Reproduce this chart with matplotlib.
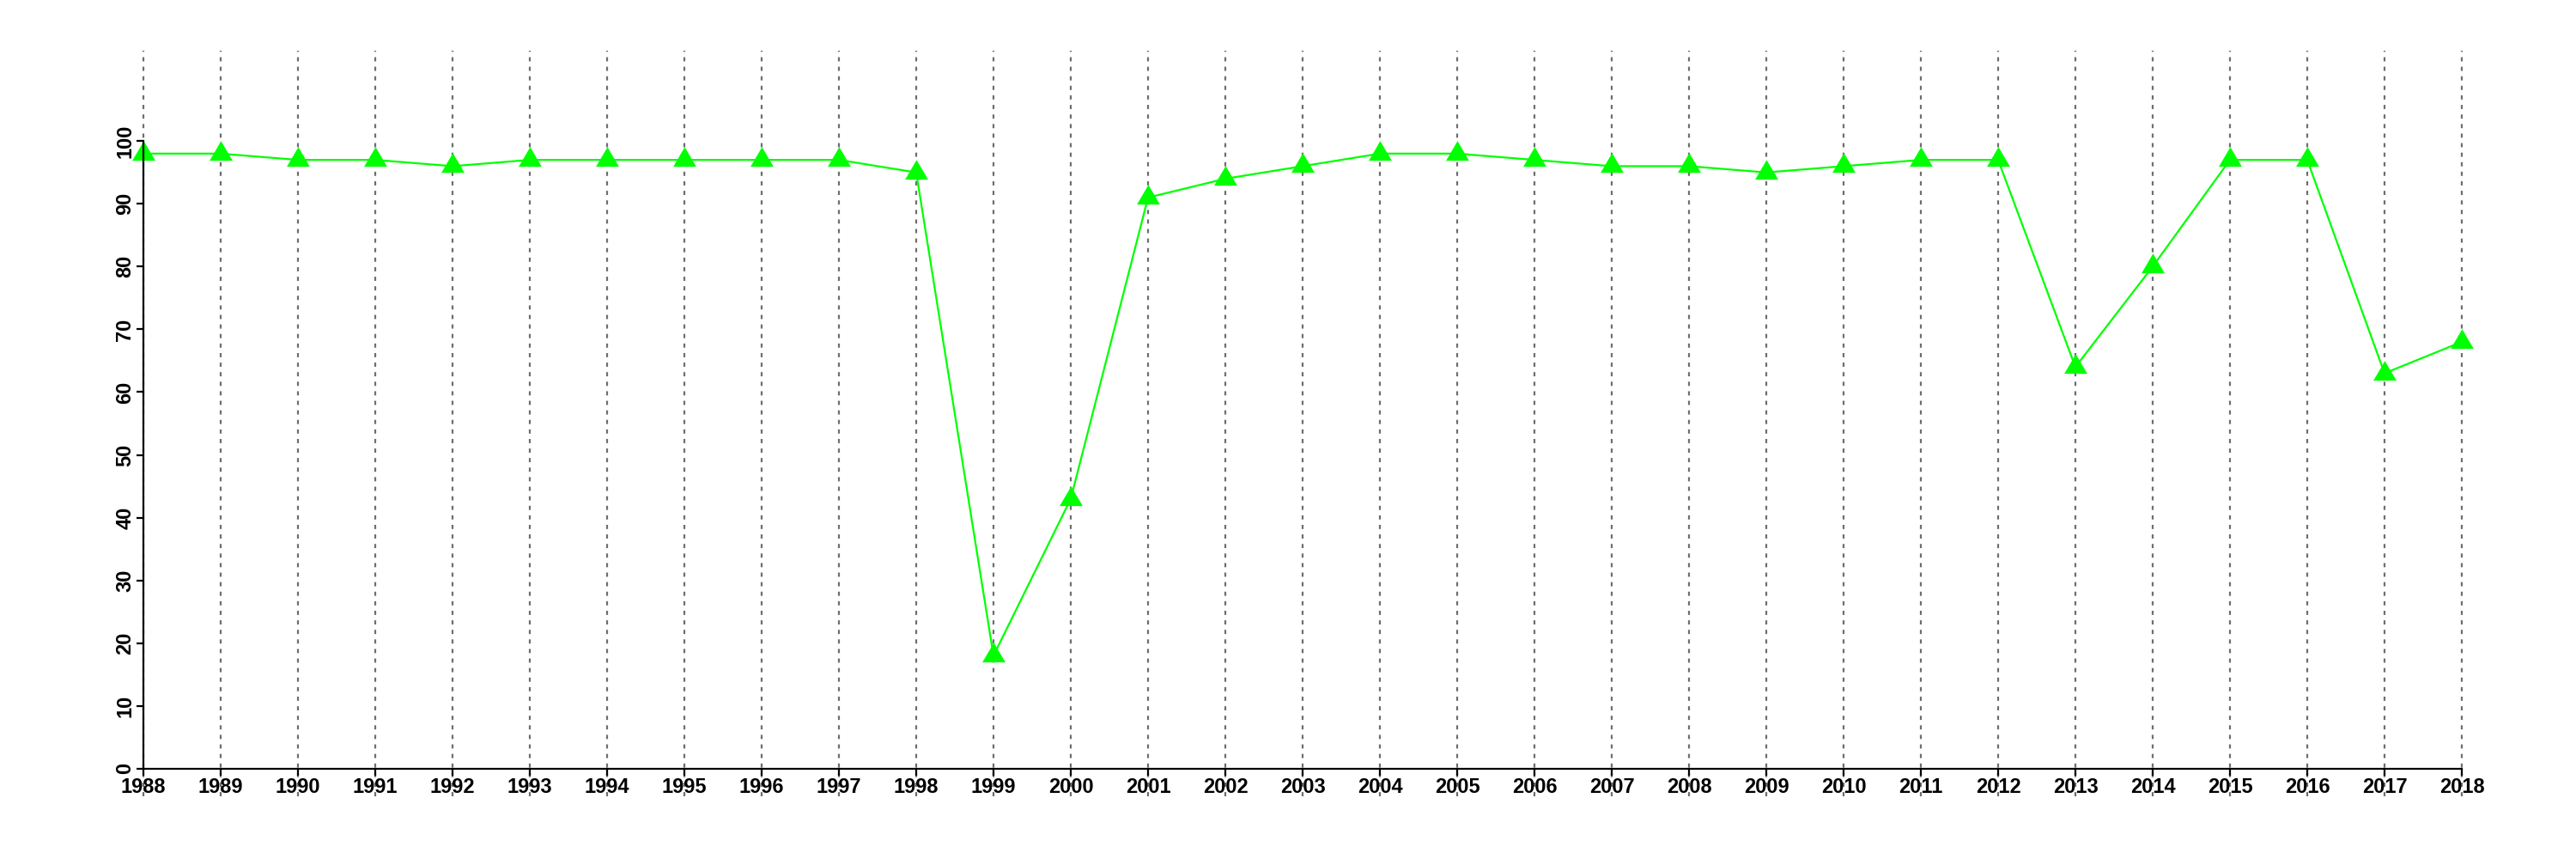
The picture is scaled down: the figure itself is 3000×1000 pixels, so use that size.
#!/usr/bin/env python3
# -*- coding: utf-8 -*-

import numpy as np
import matplotlib
matplotlib.use("Agg")
import matplotlib.pyplot as plt

# values
years = list(range(1988, 2019))
values = [98, 98, 97, 97, 96, 97, 97, 97, 97, 97, 95,
          18, 43, 91, 94, 96, 98, 98, 97, 96, 96, 95,
          96, 97, 97, 64, 80, 97, 97, 63, 68]
y_ticks = list(range(0, 101, 10))

plt.rcParams["font.family"] = ["Liberation Sans", "DejaVu Sans"]

fig = plt.figure(figsize=(30, 10), dpi=100)
ax = fig.add_axes([59 / 3000, 73 / 1000, 2916 / 3000, 868 / 1000])

# R style plot region, 4% padding around data range
ax.set_xlim(1988 - 1.2, 2018 + 1.2)
ax.set_ylim(0 - 4.4, 110 + 4.4)

# triangle with its centroid on the data point (like R pch=17)
tri = [(0, 1), (-0.88, -0.5), (0.88, -0.5), (0, 1)]

ax.plot(years, values, color="#00ff00", lw=1.6, marker=tri, ms=22,
        markerfacecolor="#00ff00", markeredgewidth=0, zorder=2)

ax.set_xticks(years)
ax.set_yticks(y_ticks)
ax.set_axisbelow(True)
ax.grid(axis="x", color="#6e6e6e", linestyle=(0, (2.2, 2.8)), lw=1.6)
ax.grid(axis="y", visible=False)

for side in ["top", "right"]:
    ax.spines[side].set_visible(False)
ax.spines["left"].set_position(("data", 1988))
ax.spines["left"].set_bounds(0, 100)
ax.spines["bottom"].set_position(("data", 0))
ax.spines["bottom"].set_bounds(1988, 2018)
for side in ["left", "bottom"]:
    ax.spines[side].set_linewidth(1.6)
    ax.spines[side].set_zorder(3)

ax.tick_params(axis="both", length=6, width=1.6, pad=1, labelsize=17)
ax.tick_params(axis="y", labelrotation=90)
for lab in ax.get_xticklabels() + ax.get_yticklabels():
    lab.set_fontweight("bold")
for lab in ax.get_yticklabels():
    lab.set_verticalalignment("center")

fig.savefig("out.png", dpi=100)
plt.close(fig)
